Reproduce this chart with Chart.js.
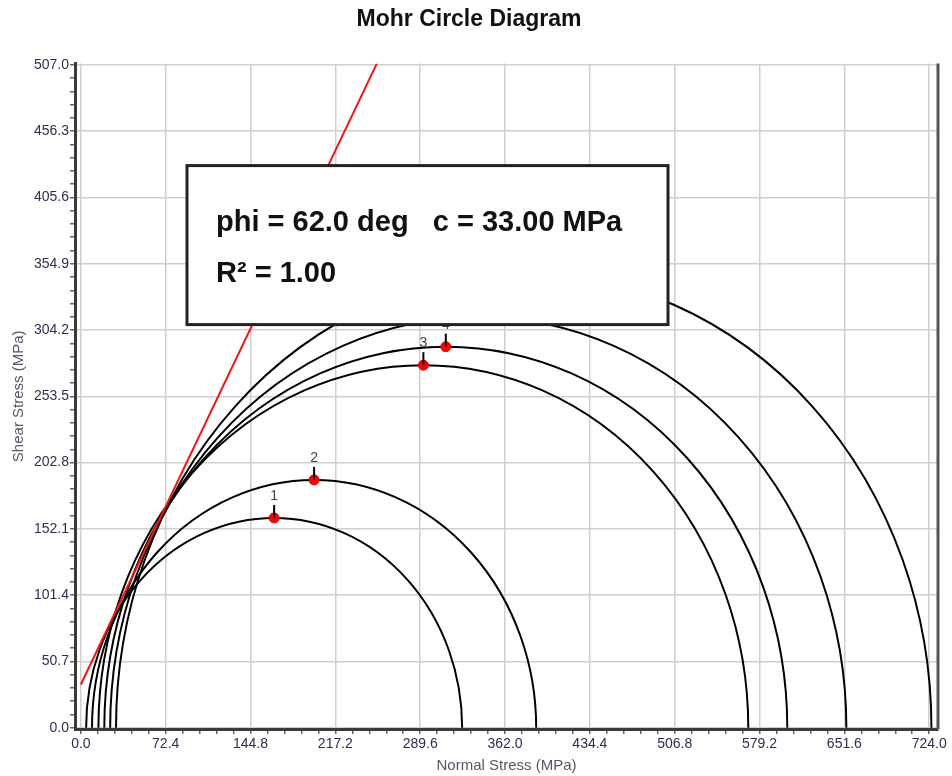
<!DOCTYPE html>
<html>
<head>
<meta charset="utf-8">
<title>Mohr Circle Diagram</title>
<script src="https://cdn.jsdelivr.net/npm/chart.js@4.4.1/dist/chart.umd.min.js"></script>
<style>
  html, body { margin: 0; padding: 0; background: #fff; }
  #wrap { width: 952px; height: 776px; }
</style>
</head>
<body>
<div id="wrap"><canvas id="mohrChart" width="952" height="776"></canvas></div>
<script>
// ─── data ────────────────────────────────────────────────────
const circleIds = ['1', '2', '3', '4', '5', '6'];
const sigma3 = [4.5, 9.5, 15.0, 20.0, 25.0, 30.0];        // minor principal stress (MPa)
const sigma1 = [325.4, 388.6, 569.6, 602.9, 653.3, 725.9]; // major principal stress (MPa)
const phiDeg = 62.0;    // friction angle
const cohesion = 33.0;  // MPa
const rSquared = 1.00;

const xTickLabels = [0.0, 72.4, 144.8, 217.2, 289.6, 362.0, 434.4, 506.8, 579.2, 651.6, 724.0];
const yTickLabels = [0.0, 50.7, 101.4, 152.1, 202.8, 253.5, 304.2, 354.9, 405.6, 456.3, 507.0];

const X_MIN = -5, X_MAX = 731.5, Y_MIN = -1, Y_MAX = 508;

// circle tops (the red markers)
const peaks = sigma1.map((s1, i) => ({ x: (s1 + sigma3[i]) / 2, y: (s1 - sigma3[i]) / 2 }));

// failure envelope, tau = c + sigma * tan(phi), drawn up to the top of the plot
const tanPhi = Math.tan(phiDeg * Math.PI / 180);
const envelope = [{ x: 0, y: cohesion }, { x: (Y_MAX - cohesion) / tanPhi, y: Y_MAX }];

// major ticks plus 4 minor ones between each pair
function withMinor(majors) {
  const out = [];
  majors.forEach((v, i) => {
    out.push({ value: v, isMajor: true });
    if (i < majors.length - 1) {
      const step = (majors[i + 1] - v) / 5;
      for (let k = 1; k < 5; k++) out.push({ value: v + step * k, isMajor: false });
    }
  });
  return out;
}

const GRID = '#cfcfcf';
const AXIS = '#3a3a3a';
const LABEL = '#2e2e55';
const FONT = "'Liberation Sans', Arial, sans-serif";

// ─── plugins ────────────────────────────────────────────────
const mohrCircles = {
  id: 'mohrCircles',
  beforeDatasetsDraw(chart) {
    const { ctx, chartArea: a, scales: { x, y } } = chart;
    ctx.save();
    ctx.beginPath();
    ctx.rect(a.left, a.top, a.right - a.left, a.bottom - a.top);
    ctx.clip();
    ctx.strokeStyle = '#000';
    ctx.lineWidth = 2;
    sigma1.forEach((s1, i) => {
      const c = (s1 + sigma3[i]) / 2, r = (s1 - sigma3[i]) / 2;
      const cx = x.getPixelForValue(c), cy = y.getPixelForValue(0);
      const rx = x.getPixelForValue(c + r) - cx;
      const ry = cy - y.getPixelForValue(r);
      ctx.beginPath();
      ctx.ellipse(cx, cy, rx, ry, 0, Math.PI, 2 * Math.PI);
      ctx.stroke();
    });
    ctx.restore();
  }
};

const peakMarks = {
  id: 'peakMarks',
  afterDatasetsDraw(chart) {
    const { ctx } = chart;
    const meta = chart.getDatasetMeta(1);
    ctx.save();
    meta.data.forEach((pt, i) => {
      ctx.strokeStyle = '#000';
      ctx.lineWidth = 2;
      ctx.beginPath();
      ctx.moveTo(pt.x, pt.y);
      ctx.lineTo(pt.x, pt.y - 13);
      ctx.stroke();
      ctx.fillStyle = '#4a4050';
      ctx.font = '14px ' + FONT;
      ctx.textAlign = 'center';
      ctx.textBaseline = 'middle';
      ctx.fillText(circleIds[i], pt.x, pt.y - 22);
    });
    ctx.restore();
  }
};

const frameAndBox = {
  id: 'frameAndBox',
  afterDraw(chart) {
    const { ctx, chartArea: a } = chart;
    ctx.save();
    // right frame edge
    ctx.strokeStyle = '#555';
    ctx.lineWidth = 3;
    ctx.beginPath();
    ctx.moveTo(a.right, a.top);
    ctx.lineTo(a.right, a.bottom);
    ctx.stroke();

    // result box
    const bx = a.left + 112, by = a.top + 102, bw = 481, bh = 159;
    ctx.fillStyle = '#fff';
    ctx.fillRect(bx, by, bw, bh);
    ctx.strokeStyle = '#222';
    ctx.lineWidth = 3;
    ctx.strokeRect(bx, by, bw, bh);
    ctx.fillStyle = '#111';
    ctx.font = 'bold 29px ' + FONT;
    ctx.textAlign = 'left';
    ctx.textBaseline = 'middle';
    ctx.fillText('phi = ' + phiDeg.toFixed(1) + ' deg   c = ' + cohesion.toFixed(2) + ' MPa', bx + 29, by + 57);
    ctx.fillText('R² = ' + rSquared.toFixed(2), bx + 29, by + 108);
    ctx.restore();
  }
};

// ─── chart ──────────────────────────────────────────────────
function axisOpts(majors, min, max, titleText, isX) {
  return {
    type: 'linear',
    min, max,
    afterBuildTicks: s => { s.ticks = withMinor(majors); },
    afterFit: s => { if (isX) s.height = 47; else s.width = 75; },
    border: { display: true, color: AXIS, width: 3 },
    grid: {
      color: c => (c.tick && c.tick.isMajor) ? GRID : 'rgba(0,0,0,0)',
      lineWidth: 1.5,
      tickColor: '#666',
      tickWidth: 1.5,
      tickLength: 5,
      drawTicks: true
    },
    ticks: {
      autoSkip: false,
      maxRotation: 0,
      padding: isX ? 2 : 1,
      color: LABEL,
      font: { family: FONT, size: 14 },
      callback: (v, i, ts) => ts[i].isMajor ? Number(v).toFixed(1) : ''
    },
    title: {
      display: true,
      text: titleText,
      color: '#5a5566',
      font: { family: FONT, size: 15 },
      padding: isX ? { top: 0, bottom: 1 } : { top: 10, bottom: 0 }
    }
  };
}

new Chart(document.getElementById('mohrChart').getContext('2d'), {
  type: 'scatter',
  data: {
    datasets: [
      {
        label: 'envelope',
        data: envelope,
        showLine: true,
        borderColor: '#ff1010',
        borderWidth: 2,
        pointRadius: 0
      },
      {
        label: 'peaks',
        data: peaks,
        pointRadius: 5,
        pointBackgroundColor: '#ff0000',
        pointBorderColor: '#e00000',
        pointBorderWidth: 1
      }
    ]
  },
  options: {
    responsive: false,
    animation: false,
    layout: { padding: { left: 0, right: 14, top: 0, bottom: 0 } },
    plugins: {
      legend: { display: false },
      tooltip: { enabled: false },
      title: {
        display: true,
        text: 'Mohr Circle Diagram',
        color: '#111',
        font: { family: FONT, size: 23, weight: 'bold' },
        padding: { top: 6, bottom: 30 }
      }
    },
    scales: {
      x: axisOpts(xTickLabels, X_MIN, X_MAX, 'Normal Stress (MPa)', true),
      y: axisOpts(yTickLabels, Y_MIN, Y_MAX, 'Shear Stress (MPa)', false)
    }
  },
  plugins: [mohrCircles, peakMarks, frameAndBox]
});
</script>
</body>
</html>
